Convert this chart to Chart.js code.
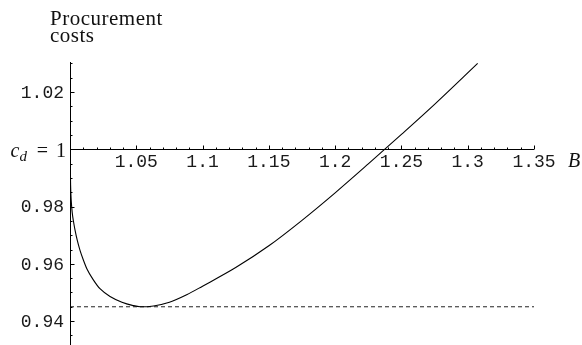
<!DOCTYPE html>
<html>
<head>
<meta charset="utf-8">
<script src="https://cdn.jsdelivr.net/npm/chart.js@4/dist/chart.umd.min.js"></script>
<style>
  html, body { margin: 0; padding: 0; background: #fff; }
  #wrap { width: 582px; height: 345px; }
</style>
</head>
<body>
<div id="wrap"><canvas id="c" width="582" height="345"></canvas></div>
<script>
// Procurement cost as a function of B
const bValues = [1.0002, 1.00045, 1.0009, 1.0017, 1.0027, 1.0038, 1.0055, 1.0075, 1.0098, 1.0128,
                 1.0176, 1.0226, 1.0302, 1.0392, 1.0470, 1.0530, 1.0630, 1.0750, 1.0880, 1.1000,
                 1.1250, 1.1500, 1.1750, 1.2000, 1.2250, 1.2500, 1.2750, 1.3075];
const costValues = [0.9945, 0.9875, 0.9823, 0.9778, 0.9746, 0.9718, 0.9682, 0.9648, 0.9617, 0.9582,
                    0.9544, 0.9513, 0.9486, 0.9466, 0.9455, 0.9450, 0.9453, 0.9466, 0.9492, 0.9522,
                    0.9587, 0.9663, 0.9752, 0.9848, 0.9949, 1.0052, 1.0157, 1.0300];

// Minimum cost reference level (dashed line)
const minCost = 0.945;
const refRange = [1.0, 1.35];

// Axis ticks
const xTicks = [1.05, 1.1, 1.15, 1.2, 1.25, 1.3, 1.35];
const xTickLabels = ['1.05', '1.1', '1.15', '1.2', '1.25', '1.3', '1.35'];
const yTicks = [0.94, 0.96, 0.98, 1.02];
const yTickLabels = ['0.94', '0.96', '0.98', '1.02'];
const xMinorStep = 0.01;
const yMinorStep = 0.005;
const yMinorStart = 0.935;
const axisCrossY = 1;

const monoFont = '18px "Liberation Mono", "DejaVu Sans Mono", monospace';
const serifFont = '20px "Liberation Serif", "DejaVu Serif", serif';
const titleFont = '21px "Liberation Serif", "DejaVu Serif", serif';
const serifItalic = 'italic 20px "Liberation Serif", "DejaVu Serif", serif';
const subItalic = 'italic 15px "Liberation Serif", "DejaVu Serif", serif';

const axesPlugin = {
  id: 'crossedAxes',
  afterDatasetsDraw(chart) {
    const ctx = chart.ctx;
    const xs = chart.scales.x, ys = chart.scales.y;
    const area = chart.chartArea;
    const yAxisY = Math.round(ys.getPixelForValue(axisCrossY)) + 0.5;
    const yAxisX = Math.round(xs.getPixelForValue(xs.min)) + 0.5;
    ctx.save();
    ctx.strokeStyle = '#000';
    ctx.lineWidth = 1;

    // vertical axis
    ctx.beginPath();
    ctx.moveTo(yAxisX, area.top);
    ctx.lineTo(yAxisX, area.bottom);
    // horizontal axis through c = 1
    ctx.moveTo(yAxisX, yAxisY);
    ctx.lineTo(xs.getPixelForValue(xs.max), yAxisY);
    ctx.stroke();

    // x ticks (pointing up)
    ctx.beginPath();
    for (let v = xs.min + xMinorStep; v <= xs.max + 1e-9; v += xMinorStep) {
      const px = Math.round(xs.getPixelForValue(v)) + 0.5;
      const isMajor = xTicks.some(t => Math.abs(t - v) < 1e-6);
      ctx.moveTo(px, yAxisY);
      ctx.lineTo(px, yAxisY - (isMajor ? 4 : 2));
    }
    // y ticks (pointing right)
    for (let v = yMinorStart; v <= ys.max + 1e-9; v += yMinorStep) {
      const py = Math.round(ys.getPixelForValue(v)) + 0.5;
      const isMajor = yTicks.some(t => Math.abs(t - v) < 1e-6);
      ctx.moveTo(yAxisX, py);
      ctx.lineTo(yAxisX + (isMajor ? 4 : 2), py);
    }
    ctx.stroke();

    // tick labels
    ctx.fillStyle = '#1a1a1a';
    ctx.font = monoFont;
    ctx.textAlign = 'center';
    ctx.textBaseline = 'alphabetic';
    xTicks.forEach((t, i) => {
      ctx.fillText(xTickLabels[i], xs.getPixelForValue(t), yAxisY + 17);
    });
    ctx.textAlign = 'right';
    ctx.textBaseline = 'middle';
    yTicks.forEach((t, i) => {
      ctx.fillText(yTickLabels[i], yAxisX - 6.5, ys.getPixelForValue(t) + 1);
    });

    // c_d = 1 label at the crossing
    ctx.fillStyle = '#111';
    ctx.textBaseline = 'alphabetic';
    const base = yAxisY + 7;
    ctx.textAlign = 'left';
    ctx.font = serifItalic;
    ctx.fillText('c', yAxisX - 60, base);
    ctx.font = subItalic;
    ctx.fillText('d', yAxisX - 51, base + 4.5);
    ctx.font = serifFont;
    ctx.textAlign = 'center';
    ctx.fillText('=', yAxisX - 28, base);
    ctx.textAlign = 'right';
    ctx.fillText('1', yAxisX - 4.5, base);

    // axis name B
    ctx.textAlign = 'left';
    ctx.font = serifItalic;
    ctx.fillText('B', xs.getPixelForValue(xs.max) + 34, yAxisY + 17);

    // vertical axis title
    ctx.font = titleFont;
    ctx.letterSpacing = '0.5px';
    ctx.fillText('Procurement', 50, 25);
    ctx.fillText('costs', 50, 42);
    ctx.restore();
  }
};

new Chart(document.getElementById('c'), {
  type: 'line',
  data: {
    datasets: [
      {
        data: bValues.map((b, i) => ({ x: b, y: costValues[i] })),
        borderColor: '#000',
        borderWidth: 1.1,
        pointRadius: 0,
        cubicInterpolationMode: 'monotone',
        fill: false
      },
      {
        data: refRange.map(b => ({ x: b, y: minCost })),
        borderColor: '#222',
        borderWidth: 1,
        borderDash: [4, 3],
        pointRadius: 0,
        fill: false
      }
    ]
  },
  options: {
    responsive: false,
    animation: false,
    devicePixelRatio: 1,
    layout: { padding: { left: 70, right: 48, top: 62, bottom: 0 } },
    plugins: { legend: { display: false }, tooltip: { enabled: false }, title: { display: false } },
    scales: {
      x: { type: 'linear', min: 1.0, max: 1.35, display: false },
      y: { type: 'linear', min: 0.93165, max: 1.0305, display: false }
    }
  },
  plugins: [axesPlugin]
});
</script>
</body>
</html>
